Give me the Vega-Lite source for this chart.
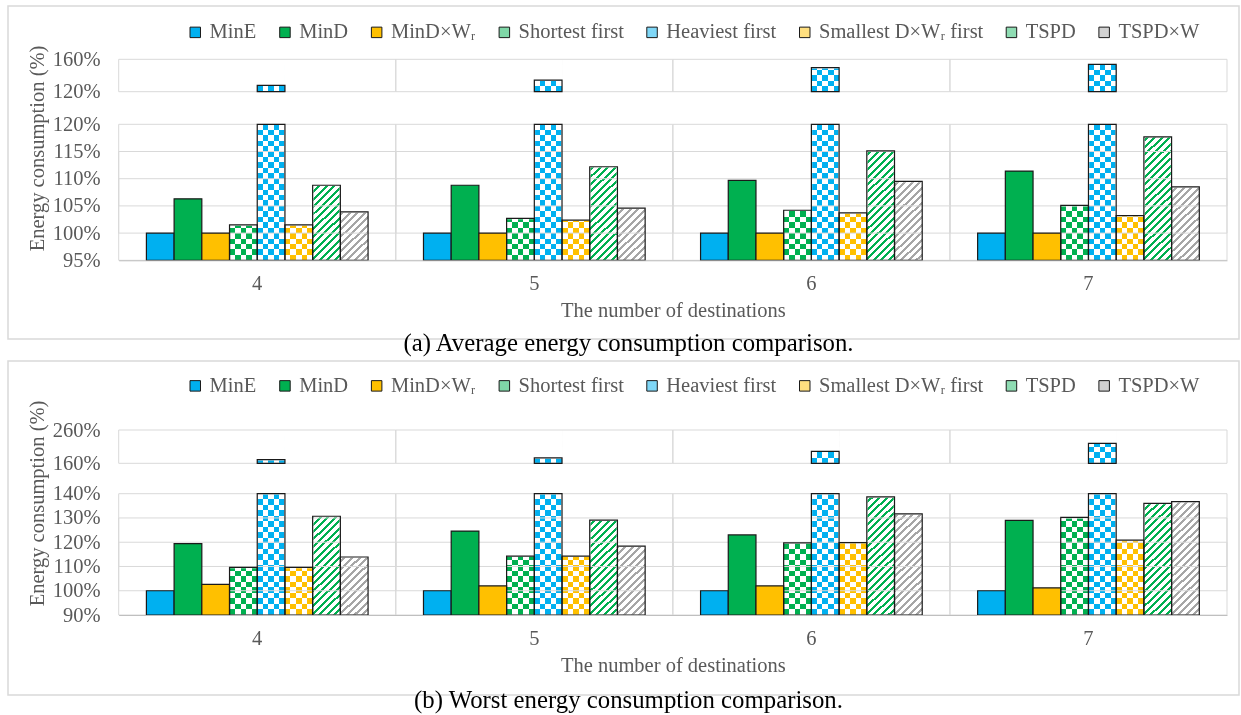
{
"$schema": "https://vega.github.io/schema/vega-lite/v6.json",
"background": "white",
"padding": {"left": 7, "top": 5, "right": 0, "bottom": 0},
"config": {"view": {"stroke": "#d9d9d9", "strokeWidth": 1.5}, "font": "Liberation Serif"},
"datasets": {
"avg": [
{"n":"4","s":"MinE","v":100},{"n":"4","s":"MinD","v":106.3},{"n":"4","s":"MinD×Wᵣ","v":100},{"n":"4","s":"Shortest first","v":101.5},{"n":"4","s":"Heaviest first","v":127.9},{"n":"4","s":"Smallest D×Wᵣ first","v":101.5},{"n":"4","s":"TSPD","v":108.8},{"n":"4","s":"TSPD×W","v":103.9},
{"n":"5","s":"MinE","v":100},{"n":"5","s":"MinD","v":108.8},{"n":"5","s":"MinD×Wᵣ","v":100},{"n":"5","s":"Shortest first","v":102.7},{"n":"5","s":"Heaviest first","v":134.4},{"n":"5","s":"Smallest D×Wᵣ first","v":102.4},{"n":"5","s":"TSPD","v":112.2},{"n":"5","s":"TSPD×W","v":104.6},
{"n":"6","s":"MinE","v":100},{"n":"6","s":"MinD","v":109.7},{"n":"6","s":"MinD×Wᵣ","v":100},{"n":"6","s":"Shortest first","v":104.2},{"n":"6","s":"Heaviest first","v":149.6},{"n":"6","s":"Smallest D×Wᵣ first","v":103.7},{"n":"6","s":"TSPD","v":115.1},{"n":"6","s":"TSPD×W","v":109.5},
{"n":"7","s":"MinE","v":100},{"n":"7","s":"MinD","v":111.4},{"n":"7","s":"MinD×Wᵣ","v":100},{"n":"7","s":"Shortest first","v":105.1},{"n":"7","s":"Heaviest first","v":153.8},{"n":"7","s":"Smallest D×Wᵣ first","v":103.2},{"n":"7","s":"TSPD","v":117.7},{"n":"7","s":"TSPD×W","v":108.5}
],
"worst": [
{"n":"4","s":"MinE","v":100},{"n":"4","s":"MinD","v":119.4},{"n":"4","s":"MinD×Wᵣ","v":102.6},{"n":"4","s":"Shortest first","v":109.6},{"n":"4","s":"Heaviest first","v":170.8},{"n":"4","s":"Smallest D×Wᵣ first","v":109.6},{"n":"4","s":"TSPD","v":130.7},{"n":"4","s":"TSPD×W","v":113.9},
{"n":"5","s":"MinE","v":100},{"n":"5","s":"MinD","v":124.6},{"n":"5","s":"MinD×Wᵣ","v":102.0},{"n":"5","s":"Shortest first","v":114.3},{"n":"5","s":"Heaviest first","v":176},{"n":"5","s":"Smallest D×Wᵣ first","v":114.3},{"n":"5","s":"TSPD","v":129.1},{"n":"5","s":"TSPD×W","v":118.4},
{"n":"6","s":"MinE","v":100},{"n":"6","s":"MinD","v":123.0},{"n":"6","s":"MinD×Wᵣ","v":102.0},{"n":"6","s":"Shortest first","v":119.7},{"n":"6","s":"Heaviest first","v":196},{"n":"6","s":"Smallest D×Wᵣ first","v":119.8},{"n":"6","s":"TSPD","v":138.7},{"n":"6","s":"TSPD×W","v":131.7},
{"n":"7","s":"MinE","v":100},{"n":"7","s":"MinD","v":129.0},{"n":"7","s":"MinD×Wᵣ","v":101.2},{"n":"7","s":"Shortest first","v":130.2},{"n":"7","s":"Heaviest first","v":220},{"n":"7","s":"Smallest D×Wᵣ first","v":120.9},{"n":"7","s":"TSPD","v":136.0},{"n":"7","s":"TSPD×W","v":136.7}
]
},
"vconcat": [
{
"width": 1231, "height": 333,
"data": {"name": "avg"},
"title": {"text": "(a) Average energy consumption comparison.", "orient": "bottom", "anchor": "middle", "frame": "group", "offset": 5, "dx": 5, "baseline": "middle", "font": "Liberation Serif", "fontSize": 24.8, "fontWeight": "normal", "color": "black"},
"encoding": {
"x": {"field": "n", "type": "nominal", "scale": {"domain": ["4","5","6","7"], "range": [110.7, 1219], "paddingInner": 0, "paddingOuter": 0},
 "axis": {"orient": "bottom", "offset": -78.7, "ticks": false, "grid": false, "domainColor": "#bfbfbf", "domainWidth": 1, "labelAngle": 0, "labelPadding": 13, "labelFont": "Liberation Serif", "labelFontSize": 20.5, "labelColor": "#595959", "title": "The number of destinations", "titlePadding": 7, "titleFont": "Liberation Serif", "titleFontSize": 20.5, "titleFontWeight": "normal", "titleColor": "#595959"}},
"xOffset": {"field": "s", "type": "nominal", "scale": {"domain": ["MinE","MinD","MinD×Wᵣ","Shortest first","Heaviest first","Smallest D×Wᵣ first","TSPD","TSPD×W"], "paddingInner": 0, "paddingOuter": 1.1}}
},
"resolve": {"scale": {"y": "independent"}, "axis": {"y": "independent"}},
"layer": [
{"transform": [{"filter": {"field": "s", "oneOf": ["Shortest first","Heaviest first","Smallest D×Wᵣ first"]}}],
 "mark": {"type": "rect", "fill": {"gradient": "linear", "x1": 0, "y1": 0, "x2": 1, "y2": 0, "stops": [{"offset":0,"color":"#000"},{"offset":0.2,"color":"#000"},{"offset":0.2,"color":"#fff"},{"offset":0.4,"color":"#fff"},{"offset":0.4,"color":"#000"},{"offset":0.6,"color":"#000"},{"offset":0.6,"color":"#fff"},{"offset":0.8,"color":"#fff"},{"offset":0.8,"color":"#000"},{"offset":1,"color":"#000"}]}},
 "encoding": {"y": {"datum": 120, "type": "quantitative", "scale": {"domain":[95,120],"range":[254.3,118.3],"clamp":true,"zero":false,"nice":false}, "axis": null}, "y2": {"datum": 95}}},
{"transform": [{"filter": {"field": "s", "oneOf": ["Shortest first","Heaviest first","Smallest D×Wᵣ first"]}}],
 "mark": {"type": "rect", "blend": "difference", "fill": {"gradient": "linear", "x1": 0, "y1": 0, "x2": 0, "y2": 1, "stops": [{"offset":0,"color":"#fff"},{"offset":0.04,"color":"#fff"},{"offset":0.04,"color":"#000"},{"offset":0.08,"color":"#000"},{"offset":0.08,"color":"#fff"},{"offset":0.12,"color":"#fff"},{"offset":0.12,"color":"#000"},{"offset":0.16,"color":"#000"},{"offset":0.16,"color":"#fff"},{"offset":0.2,"color":"#fff"},{"offset":0.2,"color":"#000"},{"offset":0.24,"color":"#000"},{"offset":0.24,"color":"#fff"},{"offset":0.28,"color":"#fff"},{"offset":0.28,"color":"#000"},{"offset":0.32,"color":"#000"},{"offset":0.32,"color":"#fff"},{"offset":0.36,"color":"#fff"},{"offset":0.36,"color":"#000"},{"offset":0.4,"color":"#000"},{"offset":0.4,"color":"#fff"},{"offset":0.44,"color":"#fff"},{"offset":0.44,"color":"#000"},{"offset":0.48,"color":"#000"},{"offset":0.48,"color":"#fff"},{"offset":0.52,"color":"#fff"},{"offset":0.52,"color":"#000"},{"offset":0.56,"color":"#000"},{"offset":0.56,"color":"#fff"},{"offset":0.6,"color":"#fff"},{"offset":0.6,"color":"#000"},{"offset":0.64,"color":"#000"},{"offset":0.64,"color":"#fff"},{"offset":0.68,"color":"#fff"},{"offset":0.68,"color":"#000"},{"offset":0.72,"color":"#000"},{"offset":0.72,"color":"#fff"},{"offset":0.76,"color":"#fff"},{"offset":0.76,"color":"#000"},{"offset":0.8,"color":"#000"},{"offset":0.8,"color":"#fff"},{"offset":0.84,"color":"#fff"},{"offset":0.84,"color":"#000"},{"offset":0.88,"color":"#000"},{"offset":0.88,"color":"#fff"},{"offset":0.92,"color":"#fff"},{"offset":0.92,"color":"#000"},{"offset":0.96,"color":"#000"},{"offset":0.96,"color":"#fff"},{"offset":1,"color":"#fff"}]}},
 "encoding": {"y": {"datum": 120, "type": "quantitative", "scale": {"domain":[95,120],"range":[254.3,118.3],"clamp":true,"zero":false,"nice":false}, "axis": null}, "y2": {"datum": 95}}},
{"transform": [{"filter": {"field": "s", "equal": "Shortest first"}}],
 "mark": {"type": "rect", "blend": "lighten", "fill": "#00B050"},
 "encoding": {"y": {"datum": 120, "type": "quantitative", "scale": {"domain":[95,120],"range":[254.3,118.3],"clamp":true,"zero":false,"nice":false}, "axis": null}, "y2": {"datum": 95}}},
{"transform": [{"filter": {"field": "s", "equal": "Heaviest first"}}],
 "mark": {"type": "rect", "blend": "lighten", "fill": "#00B0F0"},
 "encoding": {"y": {"datum": 120, "type": "quantitative", "scale": {"domain":[95,120],"range":[254.3,118.3],"clamp":true,"zero":false,"nice":false}, "axis": null}, "y2": {"datum": 95}}},
{"transform": [{"filter": {"field": "s", "equal": "Smallest D×Wᵣ first"}}],
 "mark": {"type": "rect", "blend": "lighten", "fill": "#FFC000"},
 "encoding": {"y": {"datum": 120, "type": "quantitative", "scale": {"domain":[95,120],"range":[254.3,118.3],"clamp":true,"zero":false,"nice":false}, "axis": null}, "y2": {"datum": 95}}},
{"transform": [{"filter": {"field": "s", "equal": "TSPD"}}],
 "mark": {"type": "rect", "fill": {"gradient": "linear", "x1": 0, "y1": 0, "x2": 0.2308, "y2": 1.1538, "stops": [{"offset":0,"color":"#00B050"},{"offset":0.01818,"color":"#00B050"},{"offset":0.01818,"color":"#fff"},{"offset":0.04545,"color":"#fff"},{"offset":0.04545,"color":"#00B050"},{"offset":0.06364,"color":"#00B050"},{"offset":0.06364,"color":"#fff"},{"offset":0.09091,"color":"#fff"},{"offset":0.09091,"color":"#00B050"},{"offset":0.10909,"color":"#00B050"},{"offset":0.10909,"color":"#fff"},{"offset":0.13636,"color":"#fff"},{"offset":0.13636,"color":"#00B050"},{"offset":0.15455,"color":"#00B050"},{"offset":0.15455,"color":"#fff"},{"offset":0.18182,"color":"#fff"},{"offset":0.18182,"color":"#00B050"},{"offset":0.2,"color":"#00B050"},{"offset":0.2,"color":"#fff"},{"offset":0.22727,"color":"#fff"},{"offset":0.22727,"color":"#00B050"},{"offset":0.24545,"color":"#00B050"},{"offset":0.24545,"color":"#fff"},{"offset":0.27273,"color":"#fff"},{"offset":0.27273,"color":"#00B050"},{"offset":0.29091,"color":"#00B050"},{"offset":0.29091,"color":"#fff"},{"offset":0.31818,"color":"#fff"},{"offset":0.31818,"color":"#00B050"},{"offset":0.33636,"color":"#00B050"},{"offset":0.33636,"color":"#fff"},{"offset":0.36364,"color":"#fff"},{"offset":0.36364,"color":"#00B050"},{"offset":0.38182,"color":"#00B050"},{"offset":0.38182,"color":"#fff"},{"offset":0.40909,"color":"#fff"},{"offset":0.40909,"color":"#00B050"},{"offset":0.42727,"color":"#00B050"},{"offset":0.42727,"color":"#fff"},{"offset":0.45455,"color":"#fff"},{"offset":0.45455,"color":"#00B050"},{"offset":0.47273,"color":"#00B050"},{"offset":0.47273,"color":"#fff"},{"offset":0.5,"color":"#fff"},{"offset":0.5,"color":"#00B050"},{"offset":0.51818,"color":"#00B050"},{"offset":0.51818,"color":"#fff"},{"offset":0.54545,"color":"#fff"},{"offset":0.54545,"color":"#00B050"},{"offset":0.56364,"color":"#00B050"},{"offset":0.56364,"color":"#fff"},{"offset":0.59091,"color":"#fff"},{"offset":0.59091,"color":"#00B050"},{"offset":0.60909,"color":"#00B050"},{"offset":0.60909,"color":"#fff"},{"offset":0.63636,"color":"#fff"},{"offset":0.63636,"color":"#00B050"},{"offset":0.65455,"color":"#00B050"},{"offset":0.65455,"color":"#fff"},{"offset":0.68182,"color":"#fff"},{"offset":0.68182,"color":"#00B050"},{"offset":0.7,"color":"#00B050"},{"offset":0.7,"color":"#fff"},{"offset":0.72727,"color":"#fff"},{"offset":0.72727,"color":"#00B050"},{"offset":0.74545,"color":"#00B050"},{"offset":0.74545,"color":"#fff"},{"offset":0.77273,"color":"#fff"},{"offset":0.77273,"color":"#00B050"},{"offset":0.79091,"color":"#00B050"},{"offset":0.79091,"color":"#fff"},{"offset":0.81818,"color":"#fff"},{"offset":0.81818,"color":"#00B050"},{"offset":0.83636,"color":"#00B050"},{"offset":0.83636,"color":"#fff"},{"offset":0.86364,"color":"#fff"},{"offset":0.86364,"color":"#00B050"},{"offset":0.88182,"color":"#00B050"},{"offset":0.88182,"color":"#fff"},{"offset":0.90909,"color":"#fff"},{"offset":0.90909,"color":"#00B050"},{"offset":0.92727,"color":"#00B050"},{"offset":0.92727,"color":"#fff"},{"offset":0.95455,"color":"#fff"},{"offset":0.95455,"color":"#00B050"},{"offset":0.97273,"color":"#00B050"},{"offset":0.97273,"color":"#fff"},{"offset":1,"color":"#fff"}]}},
 "encoding": {"y": {"datum": 120, "type": "quantitative", "scale": {"domain":[95,120],"range":[254.3,118.3],"clamp":true,"zero":false,"nice":false}, "axis": null}, "y2": {"datum": 95}}},
{"transform": [{"filter": {"field": "s", "equal": "TSPD×W"}}],
 "mark": {"type": "rect", "fill": {"gradient": "linear", "x1": 0, "y1": 0, "x2": 0.2308, "y2": 1.1538, "stops": [{"offset":0,"color":"#A6A6A6"},{"offset":0.01818,"color":"#A6A6A6"},{"offset":0.01818,"color":"#fff"},{"offset":0.04545,"color":"#fff"},{"offset":0.04545,"color":"#A6A6A6"},{"offset":0.06364,"color":"#A6A6A6"},{"offset":0.06364,"color":"#fff"},{"offset":0.09091,"color":"#fff"},{"offset":0.09091,"color":"#A6A6A6"},{"offset":0.10909,"color":"#A6A6A6"},{"offset":0.10909,"color":"#fff"},{"offset":0.13636,"color":"#fff"},{"offset":0.13636,"color":"#A6A6A6"},{"offset":0.15455,"color":"#A6A6A6"},{"offset":0.15455,"color":"#fff"},{"offset":0.18182,"color":"#fff"},{"offset":0.18182,"color":"#A6A6A6"},{"offset":0.2,"color":"#A6A6A6"},{"offset":0.2,"color":"#fff"},{"offset":0.22727,"color":"#fff"},{"offset":0.22727,"color":"#A6A6A6"},{"offset":0.24545,"color":"#A6A6A6"},{"offset":0.24545,"color":"#fff"},{"offset":0.27273,"color":"#fff"},{"offset":0.27273,"color":"#A6A6A6"},{"offset":0.29091,"color":"#A6A6A6"},{"offset":0.29091,"color":"#fff"},{"offset":0.31818,"color":"#fff"},{"offset":0.31818,"color":"#A6A6A6"},{"offset":0.33636,"color":"#A6A6A6"},{"offset":0.33636,"color":"#fff"},{"offset":0.36364,"color":"#fff"},{"offset":0.36364,"color":"#A6A6A6"},{"offset":0.38182,"color":"#A6A6A6"},{"offset":0.38182,"color":"#fff"},{"offset":0.40909,"color":"#fff"},{"offset":0.40909,"color":"#A6A6A6"},{"offset":0.42727,"color":"#A6A6A6"},{"offset":0.42727,"color":"#fff"},{"offset":0.45455,"color":"#fff"},{"offset":0.45455,"color":"#A6A6A6"},{"offset":0.47273,"color":"#A6A6A6"},{"offset":0.47273,"color":"#fff"},{"offset":0.5,"color":"#fff"},{"offset":0.5,"color":"#A6A6A6"},{"offset":0.51818,"color":"#A6A6A6"},{"offset":0.51818,"color":"#fff"},{"offset":0.54545,"color":"#fff"},{"offset":0.54545,"color":"#A6A6A6"},{"offset":0.56364,"color":"#A6A6A6"},{"offset":0.56364,"color":"#fff"},{"offset":0.59091,"color":"#fff"},{"offset":0.59091,"color":"#A6A6A6"},{"offset":0.60909,"color":"#A6A6A6"},{"offset":0.60909,"color":"#fff"},{"offset":0.63636,"color":"#fff"},{"offset":0.63636,"color":"#A6A6A6"},{"offset":0.65455,"color":"#A6A6A6"},{"offset":0.65455,"color":"#fff"},{"offset":0.68182,"color":"#fff"},{"offset":0.68182,"color":"#A6A6A6"},{"offset":0.7,"color":"#A6A6A6"},{"offset":0.7,"color":"#fff"},{"offset":0.72727,"color":"#fff"},{"offset":0.72727,"color":"#A6A6A6"},{"offset":0.74545,"color":"#A6A6A6"},{"offset":0.74545,"color":"#fff"},{"offset":0.77273,"color":"#fff"},{"offset":0.77273,"color":"#A6A6A6"},{"offset":0.79091,"color":"#A6A6A6"},{"offset":0.79091,"color":"#fff"},{"offset":0.81818,"color":"#fff"},{"offset":0.81818,"color":"#A6A6A6"},{"offset":0.83636,"color":"#A6A6A6"},{"offset":0.83636,"color":"#fff"},{"offset":0.86364,"color":"#fff"},{"offset":0.86364,"color":"#A6A6A6"},{"offset":0.88182,"color":"#A6A6A6"},{"offset":0.88182,"color":"#fff"},{"offset":0.90909,"color":"#fff"},{"offset":0.90909,"color":"#A6A6A6"},{"offset":0.92727,"color":"#A6A6A6"},{"offset":0.92727,"color":"#fff"},{"offset":0.95455,"color":"#fff"},{"offset":0.95455,"color":"#A6A6A6"},{"offset":0.97273,"color":"#A6A6A6"},{"offset":0.97273,"color":"#fff"},{"offset":1,"color":"#fff"}]}},
 "encoding": {"y": {"datum": 120, "type": "quantitative", "scale": {"domain":[95,120],"range":[254.3,118.3],"clamp":true,"zero":false,"nice":false}, "axis": null}, "y2": {"datum": 95}}},
{"transform": [{"filter": {"field": "s", "oneOf": ["Shortest first","Heaviest first","Smallest D×Wᵣ first","TSPD","TSPD×W"]}}],
 "mark": {"type": "rect", "fill": "white", "stroke": "white", "strokeWidth": 1.6},
 "encoding": {"y": {"field": "v", "type": "quantitative", "scale": {"domain":[95,120],"range":[254.3,118.3],"clamp":true,"zero":false,"nice":false}, "axis": null}, "y2": {"datum": 120}}},
{"transform": [{"filter": {"field": "s", "equal": "Heaviest first"}}],
 "mark": {"type": "rect", "fill": {"gradient": "linear", "x1": 0, "y1": 0, "x2": 1, "y2": 0, "stops": [{"offset":0,"color":"#000"},{"offset":0.2,"color":"#000"},{"offset":0.2,"color":"#fff"},{"offset":0.4,"color":"#fff"},{"offset":0.4,"color":"#000"},{"offset":0.6,"color":"#000"},{"offset":0.6,"color":"#fff"},{"offset":0.8,"color":"#fff"},{"offset":0.8,"color":"#000"},{"offset":1,"color":"#000"}]}},
 "encoding": {"y": {"datum": 160, "type": "quantitative", "scale": {"domain":[120,160],"range":[85.7,53.3],"clamp":true,"zero":false,"nice":false}, "axis": null}, "y2": {"datum": 120}}},
{"transform": [{"filter": {"field": "s", "equal": "Heaviest first"}}],
 "mark": {"type": "rect", "blend": "difference", "fill": {"gradient": "linear", "x1": 0, "y1": 0, "x2": 0, "y2": 1, "stops": [{"offset":0,"color":"#fff"},{"offset":0.16667,"color":"#fff"},{"offset":0.16667,"color":"#000"},{"offset":0.33333,"color":"#000"},{"offset":0.33333,"color":"#fff"},{"offset":0.5,"color":"#fff"},{"offset":0.5,"color":"#000"},{"offset":0.66667,"color":"#000"},{"offset":0.66667,"color":"#fff"},{"offset":0.83333,"color":"#fff"},{"offset":0.83333,"color":"#000"},{"offset":1,"color":"#000"}]}},
 "encoding": {"y": {"datum": 160, "type": "quantitative", "scale": {"domain":[120,160],"range":[85.7,53.3],"clamp":true,"zero":false,"nice":false}, "axis": null}, "y2": {"datum": 120}}},
{"transform": [{"filter": {"field": "s", "equal": "Heaviest first"}}],
 "mark": {"type": "rect", "blend": "lighten", "fill": "#00B0F0"},
 "encoding": {"y": {"datum": 160, "type": "quantitative", "scale": {"domain":[120,160],"range":[85.7,53.3],"clamp":true,"zero":false,"nice":false}, "axis": null}, "y2": {"datum": 120}}},
{"transform": [{"filter": {"field": "s", "equal": "Heaviest first"}}],
 "mark": {"type": "rect", "fill": "white", "stroke": "white", "strokeWidth": 1.6},
 "encoding": {"y": {"field": "v", "type": "quantitative", "scale": {"domain":[120,160],"range":[85.7,53.3],"clamp":true,"zero":false,"nice":false}, "axis": null}, "y2": {"datum": 160}}},
{"transform": [{"filter": {"field": "s", "equal": "MinE"}}],
 "mark": {"type": "rect", "filled": false, "stroke": "#d9d9d9", "strokeWidth": 1},
 "encoding": {"xOffset": null, "y": {"datum": 120, "type": "quantitative", "scale": {"domain":[95,120],"range":[254.3,118.3],"clamp":true,"zero":false,"nice":false}, "axis": null}, "y2": {"datum": 95}}},
{"transform": [{"filter": {"field": "s", "equal": "MinE"}}],
 "mark": {"type": "rect", "filled": false, "stroke": "#d9d9d9", "strokeWidth": 1},
 "encoding": {"xOffset": null, "y": {"datum": 115, "type": "quantitative", "scale": {"domain":[95,120],"range":[254.3,118.3],"clamp":true,"zero":false,"nice":false}, "axis": null}, "y2": {"datum": 100}}},
{"transform": [{"filter": {"field": "s", "equal": "MinE"}}],
 "mark": {"type": "rect", "filled": false, "stroke": "#d9d9d9", "strokeWidth": 1},
 "encoding": {"xOffset": null, "y": {"datum": 110, "type": "quantitative", "scale": {"domain":[95,120],"range":[254.3,118.3],"clamp":true,"zero":false,"nice":false}, "axis": null}, "y2": {"datum": 105}}},
{"transform": [{"filter": {"field": "s", "equal": "MinE"}}],
 "mark": {"type": "rect", "filled": false, "stroke": "#d9d9d9", "strokeWidth": 1},
 "encoding": {"xOffset": null, "y": {"datum": 160, "type": "quantitative", "scale": {"domain":[120,160],"range":[85.7,53.3],"clamp":true,"zero":false,"nice":false}, "axis": null}, "y2": {"datum": 120}}},
{"transform": [{"filter": {"field": "s", "oneOf": ["MinE","MinD","MinD×Wᵣ"]}}],
 "mark": {"type": "rect", "stroke": "#1a1a1a", "strokeWidth": 1.2},
 "encoding": {"y": {"field": "v", "type": "quantitative", "scale": {"domain":[95,120],"range":[254.3,118.3],"clamp":true,"zero":false,"nice":false},
   "axis": {"orient": "left", "offset": -110.7, "values": [95,100,105,110,115,120], "labelExpr": "datum.value + '%'", "ticks": false, "domain": false, "grid": false, "labelPadding": 18.7, "labelFlush": false, "labelOverlap": false, "labelFont": "Liberation Serif", "labelFontSize": 20.5, "labelColor": "#595959", "labelBaseline": "middle", "title": "Energy consumption (%)", "titleFont": "Liberation Serif", "titleFontSize": 20.5, "titleFontWeight": "normal", "titleColor": "#595959", "titleAngle": -90, "titleX": -81.7, "titleY": 142, "titleAlign": "center", "titleBaseline": "middle"}},
  "y2": {"datum": 95},
  "color": {"field": "s", "type": "nominal", "scale": {"domain": ["MinE","MinD","MinD×Wᵣ","Shortest first","Heaviest first","Smallest D×Wᵣ first","TSPD","TSPD×W"], "range": ["#00B0F0","#00B050","#FFC000","#7FD7A7","#7FD7F7","#FFDF7F","#8FDCB3","#D2D2D2"]},
   "legend": {"orient": "none", "legendX": 177, "legendY": 16, "direction": "horizontal", "columns": 8, "title": null, "symbolType": "square", "symbolSize": 110, "symbolStrokeColor": "#1a1a1a", "symbolStrokeWidth": 1, "symbolOpacity": 1, "labelFont": "Liberation Serif", "labelFontSize": 20.5, "labelColor": "#595959", "labelOffset": 4, "columnPadding": 17.7, "padding": 0, "labelLimit": 400}}}},
{"transform": [{"filter": {"field": "s", "oneOf": ["Shortest first","Heaviest first","Smallest D×Wᵣ first","TSPD","TSPD×W"]}}],
 "mark": {"type": "rect", "filled": false, "stroke": "#1a1a1a", "strokeWidth": 1.2},
 "encoding": {"y": {"field": "v", "type": "quantitative", "scale": {"domain":[95,120],"range":[254.3,118.3],"clamp":true,"zero":false,"nice":false}, "axis": null}, "y2": {"datum": 95}}},
{"transform": [{"filter": {"field": "s", "equal": "Heaviest first"}}],
 "mark": {"type": "rect", "filled": false, "stroke": "#1a1a1a", "strokeWidth": 1.2},
 "encoding": {"y": {"field": "v", "type": "quantitative", "scale": {"domain":[120,160],"range":[85.7,53.3],"clamp":true,"zero":false,"nice":false},
   "axis": {"orient": "left", "offset": -110.7, "values": [120,160], "labelExpr": "datum.value + '%'", "ticks": false, "domain": false, "grid": false, "labelPadding": 18.7, "labelFlush": false, "labelOverlap": false, "labelFont": "Liberation Serif", "labelFontSize": 20.5, "labelColor": "#595959", "labelBaseline": "middle", "title": null}},
  "y2": {"datum": 120}}}
]
},
{
"width": 1231, "height": 334,
"data": {"name": "worst"},
"title": {"text": "(b) Worst energy consumption comparison.", "orient": "bottom", "anchor": "middle", "frame": "group", "offset": 6, "dx": 5, "baseline": "middle", "font": "Liberation Serif", "fontSize": 24.8, "fontWeight": "normal", "color": "black"},
"encoding": {
"x": {"field": "n", "type": "nominal", "scale": {"domain": ["4","5","6","7"], "range": [110.7, 1219], "paddingInner": 0, "paddingOuter": 0},
 "axis": {"orient": "bottom", "offset": -80, "ticks": false, "grid": false, "domainColor": "#bfbfbf", "domainWidth": 1, "labelAngle": 0, "labelPadding": 13, "labelFont": "Liberation Serif", "labelFontSize": 20.5, "labelColor": "#595959", "title": "The number of destinations", "titlePadding": 7, "titleFont": "Liberation Serif", "titleFontSize": 20.5, "titleFontWeight": "normal", "titleColor": "#595959"}},
"xOffset": {"field": "s", "type": "nominal", "scale": {"domain": ["MinE","MinD","MinD×Wᵣ","Shortest first","Heaviest first","Smallest D×Wᵣ first","TSPD","TSPD×W"], "paddingInner": 0, "paddingOuter": 1.1}}
},
"resolve": {"scale": {"y": "independent"}, "axis": {"y": "independent"}},
"layer": [
{"transform": [{"filter": {"field": "s", "oneOf": ["Shortest first","Heaviest first","Smallest D×Wᵣ first"]}}],
 "mark": {"type": "rect", "fill": {"gradient": "linear", "x1": 0, "y1": 0, "x2": 1, "y2": 0, "stops": [{"offset":0,"color":"#000"},{"offset":0.2,"color":"#000"},{"offset":0.2,"color":"#fff"},{"offset":0.4,"color":"#fff"},{"offset":0.4,"color":"#000"},{"offset":0.6,"color":"#000"},{"offset":0.6,"color":"#fff"},{"offset":0.8,"color":"#fff"},{"offset":0.8,"color":"#000"},{"offset":1,"color":"#000"}]}},
 "encoding": {"y": {"datum": 140, "type": "quantitative", "scale": {"domain":[90,140],"range":[254,132.7],"clamp":true,"zero":false,"nice":false}, "axis": null}, "y2": {"datum": 90}}},
{"transform": [{"filter": {"field": "s", "oneOf": ["Shortest first","Heaviest first","Smallest D×Wᵣ first"]}}],
 "mark": {"type": "rect", "blend": "difference", "fill": {"gradient": "linear", "x1": 0, "y1": 0, "x2": 0, "y2": 1, "stops": [{"offset":0,"color":"#fff"},{"offset":0.04545,"color":"#fff"},{"offset":0.04545,"color":"#000"},{"offset":0.09091,"color":"#000"},{"offset":0.09091,"color":"#fff"},{"offset":0.13636,"color":"#fff"},{"offset":0.13636,"color":"#000"},{"offset":0.18182,"color":"#000"},{"offset":0.18182,"color":"#fff"},{"offset":0.22727,"color":"#fff"},{"offset":0.22727,"color":"#000"},{"offset":0.27273,"color":"#000"},{"offset":0.27273,"color":"#fff"},{"offset":0.31818,"color":"#fff"},{"offset":0.31818,"color":"#000"},{"offset":0.36364,"color":"#000"},{"offset":0.36364,"color":"#fff"},{"offset":0.40909,"color":"#fff"},{"offset":0.40909,"color":"#000"},{"offset":0.45455,"color":"#000"},{"offset":0.45455,"color":"#fff"},{"offset":0.5,"color":"#fff"},{"offset":0.5,"color":"#000"},{"offset":0.54545,"color":"#000"},{"offset":0.54545,"color":"#fff"},{"offset":0.59091,"color":"#fff"},{"offset":0.59091,"color":"#000"},{"offset":0.63636,"color":"#000"},{"offset":0.63636,"color":"#fff"},{"offset":0.68182,"color":"#fff"},{"offset":0.68182,"color":"#000"},{"offset":0.72727,"color":"#000"},{"offset":0.72727,"color":"#fff"},{"offset":0.77273,"color":"#fff"},{"offset":0.77273,"color":"#000"},{"offset":0.81818,"color":"#000"},{"offset":0.81818,"color":"#fff"},{"offset":0.86364,"color":"#fff"},{"offset":0.86364,"color":"#000"},{"offset":0.90909,"color":"#000"},{"offset":0.90909,"color":"#fff"},{"offset":0.95455,"color":"#fff"},{"offset":0.95455,"color":"#000"},{"offset":1,"color":"#000"}]}},
 "encoding": {"y": {"datum": 140, "type": "quantitative", "scale": {"domain":[90,140],"range":[254,132.7],"clamp":true,"zero":false,"nice":false}, "axis": null}, "y2": {"datum": 90}}},
{"transform": [{"filter": {"field": "s", "equal": "Shortest first"}}],
 "mark": {"type": "rect", "blend": "lighten", "fill": "#00B050"},
 "encoding": {"y": {"datum": 140, "type": "quantitative", "scale": {"domain":[90,140],"range":[254,132.7],"clamp":true,"zero":false,"nice":false}, "axis": null}, "y2": {"datum": 90}}},
{"transform": [{"filter": {"field": "s", "equal": "Heaviest first"}}],
 "mark": {"type": "rect", "blend": "lighten", "fill": "#00B0F0"},
 "encoding": {"y": {"datum": 140, "type": "quantitative", "scale": {"domain":[90,140],"range":[254,132.7],"clamp":true,"zero":false,"nice":false}, "axis": null}, "y2": {"datum": 90}}},
{"transform": [{"filter": {"field": "s", "equal": "Smallest D×Wᵣ first"}}],
 "mark": {"type": "rect", "blend": "lighten", "fill": "#FFC000"},
 "encoding": {"y": {"datum": 140, "type": "quantitative", "scale": {"domain":[90,140],"range":[254,132.7],"clamp":true,"zero":false,"nice":false}, "axis": null}, "y2": {"datum": 90}}},
{"transform": [{"filter": {"field": "s", "equal": "TSPD"}}],
 "mark": {"type": "rect", "fill": {"gradient": "linear", "x1": 0, "y1": 0, "x2": 0.2614, "y2": 1.1657, "stops": [{"offset":0,"color":"#00B050"},{"offset":0.02,"color":"#00B050"},{"offset":0.02,"color":"#fff"},{"offset":0.05,"color":"#fff"},{"offset":0.05,"color":"#00B050"},{"offset":0.07,"color":"#00B050"},{"offset":0.07,"color":"#fff"},{"offset":0.1,"color":"#fff"},{"offset":0.1,"color":"#00B050"},{"offset":0.12,"color":"#00B050"},{"offset":0.12,"color":"#fff"},{"offset":0.15,"color":"#fff"},{"offset":0.15,"color":"#00B050"},{"offset":0.17,"color":"#00B050"},{"offset":0.17,"color":"#fff"},{"offset":0.2,"color":"#fff"},{"offset":0.2,"color":"#00B050"},{"offset":0.22,"color":"#00B050"},{"offset":0.22,"color":"#fff"},{"offset":0.25,"color":"#fff"},{"offset":0.25,"color":"#00B050"},{"offset":0.27,"color":"#00B050"},{"offset":0.27,"color":"#fff"},{"offset":0.3,"color":"#fff"},{"offset":0.3,"color":"#00B050"},{"offset":0.32,"color":"#00B050"},{"offset":0.32,"color":"#fff"},{"offset":0.35,"color":"#fff"},{"offset":0.35,"color":"#00B050"},{"offset":0.37,"color":"#00B050"},{"offset":0.37,"color":"#fff"},{"offset":0.4,"color":"#fff"},{"offset":0.4,"color":"#00B050"},{"offset":0.42,"color":"#00B050"},{"offset":0.42,"color":"#fff"},{"offset":0.45,"color":"#fff"},{"offset":0.45,"color":"#00B050"},{"offset":0.47,"color":"#00B050"},{"offset":0.47,"color":"#fff"},{"offset":0.5,"color":"#fff"},{"offset":0.5,"color":"#00B050"},{"offset":0.52,"color":"#00B050"},{"offset":0.52,"color":"#fff"},{"offset":0.55,"color":"#fff"},{"offset":0.55,"color":"#00B050"},{"offset":0.57,"color":"#00B050"},{"offset":0.57,"color":"#fff"},{"offset":0.6,"color":"#fff"},{"offset":0.6,"color":"#00B050"},{"offset":0.62,"color":"#00B050"},{"offset":0.62,"color":"#fff"},{"offset":0.65,"color":"#fff"},{"offset":0.65,"color":"#00B050"},{"offset":0.67,"color":"#00B050"},{"offset":0.67,"color":"#fff"},{"offset":0.7,"color":"#fff"},{"offset":0.7,"color":"#00B050"},{"offset":0.72,"color":"#00B050"},{"offset":0.72,"color":"#fff"},{"offset":0.75,"color":"#fff"},{"offset":0.75,"color":"#00B050"},{"offset":0.77,"color":"#00B050"},{"offset":0.77,"color":"#fff"},{"offset":0.8,"color":"#fff"},{"offset":0.8,"color":"#00B050"},{"offset":0.82,"color":"#00B050"},{"offset":0.82,"color":"#fff"},{"offset":0.85,"color":"#fff"},{"offset":0.85,"color":"#00B050"},{"offset":0.87,"color":"#00B050"},{"offset":0.87,"color":"#fff"},{"offset":0.9,"color":"#fff"},{"offset":0.9,"color":"#00B050"},{"offset":0.92,"color":"#00B050"},{"offset":0.92,"color":"#fff"},{"offset":0.95,"color":"#fff"},{"offset":0.95,"color":"#00B050"},{"offset":0.97,"color":"#00B050"},{"offset":0.97,"color":"#fff"},{"offset":1,"color":"#fff"}]}},
 "encoding": {"y": {"datum": 140, "type": "quantitative", "scale": {"domain":[90,140],"range":[254,132.7],"clamp":true,"zero":false,"nice":false}, "axis": null}, "y2": {"datum": 90}}},
{"transform": [{"filter": {"field": "s", "equal": "TSPD×W"}}],
 "mark": {"type": "rect", "fill": {"gradient": "linear", "x1": 0, "y1": 0, "x2": 0.2614, "y2": 1.1657, "stops": [{"offset":0,"color":"#A6A6A6"},{"offset":0.02,"color":"#A6A6A6"},{"offset":0.02,"color":"#fff"},{"offset":0.05,"color":"#fff"},{"offset":0.05,"color":"#A6A6A6"},{"offset":0.07,"color":"#A6A6A6"},{"offset":0.07,"color":"#fff"},{"offset":0.1,"color":"#fff"},{"offset":0.1,"color":"#A6A6A6"},{"offset":0.12,"color":"#A6A6A6"},{"offset":0.12,"color":"#fff"},{"offset":0.15,"color":"#fff"},{"offset":0.15,"color":"#A6A6A6"},{"offset":0.17,"color":"#A6A6A6"},{"offset":0.17,"color":"#fff"},{"offset":0.2,"color":"#fff"},{"offset":0.2,"color":"#A6A6A6"},{"offset":0.22,"color":"#A6A6A6"},{"offset":0.22,"color":"#fff"},{"offset":0.25,"color":"#fff"},{"offset":0.25,"color":"#A6A6A6"},{"offset":0.27,"color":"#A6A6A6"},{"offset":0.27,"color":"#fff"},{"offset":0.3,"color":"#fff"},{"offset":0.3,"color":"#A6A6A6"},{"offset":0.32,"color":"#A6A6A6"},{"offset":0.32,"color":"#fff"},{"offset":0.35,"color":"#fff"},{"offset":0.35,"color":"#A6A6A6"},{"offset":0.37,"color":"#A6A6A6"},{"offset":0.37,"color":"#fff"},{"offset":0.4,"color":"#fff"},{"offset":0.4,"color":"#A6A6A6"},{"offset":0.42,"color":"#A6A6A6"},{"offset":0.42,"color":"#fff"},{"offset":0.45,"color":"#fff"},{"offset":0.45,"color":"#A6A6A6"},{"offset":0.47,"color":"#A6A6A6"},{"offset":0.47,"color":"#fff"},{"offset":0.5,"color":"#fff"},{"offset":0.5,"color":"#A6A6A6"},{"offset":0.52,"color":"#A6A6A6"},{"offset":0.52,"color":"#fff"},{"offset":0.55,"color":"#fff"},{"offset":0.55,"color":"#A6A6A6"},{"offset":0.57,"color":"#A6A6A6"},{"offset":0.57,"color":"#fff"},{"offset":0.6,"color":"#fff"},{"offset":0.6,"color":"#A6A6A6"},{"offset":0.62,"color":"#A6A6A6"},{"offset":0.62,"color":"#fff"},{"offset":0.65,"color":"#fff"},{"offset":0.65,"color":"#A6A6A6"},{"offset":0.67,"color":"#A6A6A6"},{"offset":0.67,"color":"#fff"},{"offset":0.7,"color":"#fff"},{"offset":0.7,"color":"#A6A6A6"},{"offset":0.72,"color":"#A6A6A6"},{"offset":0.72,"color":"#fff"},{"offset":0.75,"color":"#fff"},{"offset":0.75,"color":"#A6A6A6"},{"offset":0.77,"color":"#A6A6A6"},{"offset":0.77,"color":"#fff"},{"offset":0.8,"color":"#fff"},{"offset":0.8,"color":"#A6A6A6"},{"offset":0.82,"color":"#A6A6A6"},{"offset":0.82,"color":"#fff"},{"offset":0.85,"color":"#fff"},{"offset":0.85,"color":"#A6A6A6"},{"offset":0.87,"color":"#A6A6A6"},{"offset":0.87,"color":"#fff"},{"offset":0.9,"color":"#fff"},{"offset":0.9,"color":"#A6A6A6"},{"offset":0.92,"color":"#A6A6A6"},{"offset":0.92,"color":"#fff"},{"offset":0.95,"color":"#fff"},{"offset":0.95,"color":"#A6A6A6"},{"offset":0.97,"color":"#A6A6A6"},{"offset":0.97,"color":"#fff"},{"offset":1,"color":"#fff"}]}},
 "encoding": {"y": {"datum": 140, "type": "quantitative", "scale": {"domain":[90,140],"range":[254,132.7],"clamp":true,"zero":false,"nice":false}, "axis": null}, "y2": {"datum": 90}}},
{"transform": [{"filter": {"field": "s", "oneOf": ["Shortest first","Heaviest first","Smallest D×Wᵣ first","TSPD","TSPD×W"]}}],
 "mark": {"type": "rect", "fill": "white", "stroke": "white", "strokeWidth": 1.6},
 "encoding": {"y": {"field": "v", "type": "quantitative", "scale": {"domain":[90,140],"range":[254,132.7],"clamp":true,"zero":false,"nice":false}, "axis": null}, "y2": {"datum": 140}}},
{"transform": [{"filter": {"field": "s", "equal": "Heaviest first"}}],
 "mark": {"type": "rect", "fill": {"gradient": "linear", "x1": 0, "y1": 0, "x2": 1, "y2": 0, "stops": [{"offset":0,"color":"#000"},{"offset":0.2,"color":"#000"},{"offset":0.2,"color":"#fff"},{"offset":0.4,"color":"#fff"},{"offset":0.4,"color":"#000"},{"offset":0.6,"color":"#000"},{"offset":0.6,"color":"#fff"},{"offset":0.8,"color":"#fff"},{"offset":0.8,"color":"#000"},{"offset":1,"color":"#000"}]}},
 "encoding": {"y": {"datum": 260, "type": "quantitative", "scale": {"domain":[160,260],"range":[102.3,69],"clamp":true,"zero":false,"nice":false}, "axis": null}, "y2": {"datum": 160}}},
{"transform": [{"filter": {"field": "s", "equal": "Heaviest first"}}],
 "mark": {"type": "rect", "blend": "difference", "fill": {"gradient": "linear", "x1": 0, "y1": 0, "x2": 0, "y2": 1, "stops": [{"offset":0,"color":"#fff"},{"offset":0.16667,"color":"#fff"},{"offset":0.16667,"color":"#000"},{"offset":0.33333,"color":"#000"},{"offset":0.33333,"color":"#fff"},{"offset":0.5,"color":"#fff"},{"offset":0.5,"color":"#000"},{"offset":0.66667,"color":"#000"},{"offset":0.66667,"color":"#fff"},{"offset":0.83333,"color":"#fff"},{"offset":0.83333,"color":"#000"},{"offset":1,"color":"#000"}]}},
 "encoding": {"y": {"datum": 260, "type": "quantitative", "scale": {"domain":[160,260],"range":[102.3,69],"clamp":true,"zero":false,"nice":false}, "axis": null}, "y2": {"datum": 160}}},
{"transform": [{"filter": {"field": "s", "equal": "Heaviest first"}}],
 "mark": {"type": "rect", "blend": "lighten", "fill": "#00B0F0"},
 "encoding": {"y": {"datum": 260, "type": "quantitative", "scale": {"domain":[160,260],"range":[102.3,69],"clamp":true,"zero":false,"nice":false}, "axis": null}, "y2": {"datum": 160}}},
{"transform": [{"filter": {"field": "s", "equal": "Heaviest first"}}],
 "mark": {"type": "rect", "fill": "white", "stroke": "white", "strokeWidth": 1.6},
 "encoding": {"y": {"field": "v", "type": "quantitative", "scale": {"domain":[160,260],"range":[102.3,69],"clamp":true,"zero":false,"nice":false}, "axis": null}, "y2": {"datum": 260}}},
{"transform": [{"filter": {"field": "s", "equal": "MinE"}}],
 "mark": {"type": "rect", "filled": false, "stroke": "#d9d9d9", "strokeWidth": 1},
 "encoding": {"xOffset": null, "y": {"datum": 140, "type": "quantitative", "scale": {"domain":[90,140],"range":[254,132.7],"clamp":true,"zero":false,"nice":false}, "axis": null}, "y2": {"datum": 90}}},
{"transform": [{"filter": {"field": "s", "equal": "MinE"}}],
 "mark": {"type": "rect", "filled": false, "stroke": "#d9d9d9", "strokeWidth": 1},
 "encoding": {"xOffset": null, "y": {"datum": 130, "type": "quantitative", "scale": {"domain":[90,140],"range":[254,132.7],"clamp":true,"zero":false,"nice":false}, "axis": null}, "y2": {"datum": 100}}},
{"transform": [{"filter": {"field": "s", "equal": "MinE"}}],
 "mark": {"type": "rect", "filled": false, "stroke": "#d9d9d9", "strokeWidth": 1},
 "encoding": {"xOffset": null, "y": {"datum": 120, "type": "quantitative", "scale": {"domain":[90,140],"range":[254,132.7],"clamp":true,"zero":false,"nice":false}, "axis": null}, "y2": {"datum": 110}}},
{"transform": [{"filter": {"field": "s", "equal": "MinE"}}],
 "mark": {"type": "rect", "filled": false, "stroke": "#d9d9d9", "strokeWidth": 1},
 "encoding": {"xOffset": null, "y": {"datum": 260, "type": "quantitative", "scale": {"domain":[160,260],"range":[102.3,69],"clamp":true,"zero":false,"nice":false}, "axis": null}, "y2": {"datum": 160}}},
{"transform": [{"filter": {"field": "s", "oneOf": ["MinE","MinD","MinD×Wᵣ"]}}],
 "mark": {"type": "rect", "stroke": "#1a1a1a", "strokeWidth": 1.2},
 "encoding": {"y": {"field": "v", "type": "quantitative", "scale": {"domain":[90,140],"range":[254,132.7],"clamp":true,"zero":false,"nice":false},
   "axis": {"orient": "left", "offset": -110.7, "values": [90,100,110,120,130,140], "labelExpr": "datum.value + '%'", "ticks": false, "domain": false, "grid": false, "labelPadding": 18.7, "labelFlush": false, "labelOverlap": false, "labelFont": "Liberation Serif", "labelFontSize": 20.5, "labelColor": "#595959", "labelBaseline": "middle", "title": "Energy consumption (%)", "titleFont": "Liberation Serif", "titleFontSize": 20.5, "titleFontWeight": "normal", "titleColor": "#595959", "titleAngle": -90, "titleX": -81.7, "titleY": 142, "titleAlign": "center", "titleBaseline": "middle"}},
  "y2": {"datum": 90},
  "color": {"field": "s", "type": "nominal", "scale": {"domain": ["MinE","MinD","MinD×Wᵣ","Shortest first","Heaviest first","Smallest D×Wᵣ first","TSPD","TSPD×W"], "range": ["#00B0F0","#00B050","#FFC000","#7FD7A7","#7FD7F7","#FFDF7F","#8FDCB3","#D2D2D2"]},
   "legend": {"orient": "none", "legendX": 177, "legendY": 14.5, "direction": "horizontal", "columns": 8, "title": null, "symbolType": "square", "symbolSize": 110, "symbolStrokeColor": "#1a1a1a", "symbolStrokeWidth": 1, "symbolOpacity": 1, "labelFont": "Liberation Serif", "labelFontSize": 20.5, "labelColor": "#595959", "labelOffset": 4, "columnPadding": 17.7, "padding": 0, "labelLimit": 400}}}},
{"transform": [{"filter": {"field": "s", "oneOf": ["Shortest first","Heaviest first","Smallest D×Wᵣ first","TSPD","TSPD×W"]}}],
 "mark": {"type": "rect", "filled": false, "stroke": "#1a1a1a", "strokeWidth": 1.2},
 "encoding": {"y": {"field": "v", "type": "quantitative", "scale": {"domain":[90,140],"range":[254,132.7],"clamp":true,"zero":false,"nice":false}, "axis": null}, "y2": {"datum": 90}}},
{"transform": [{"filter": {"field": "s", "equal": "Heaviest first"}}],
 "mark": {"type": "rect", "filled": false, "stroke": "#1a1a1a", "strokeWidth": 1.2},
 "encoding": {"y": {"field": "v", "type": "quantitative", "scale": {"domain":[160,260],"range":[102.3,69],"clamp":true,"zero":false,"nice":false},
   "axis": {"orient": "left", "offset": -110.7, "values": [160,260], "labelExpr": "datum.value + '%'", "ticks": false, "domain": false, "grid": false, "labelPadding": 18.7, "labelFlush": false, "labelOverlap": false, "labelFont": "Liberation Serif", "labelFontSize": 20.5, "labelColor": "#595959", "labelBaseline": "middle", "title": null}},
  "y2": {"datum": 160}}}
]
}
],
"spacing": 22,
"bounds": "flush",
"resolve": {"scale": {"color": "independent"}, "legend": {"color": "independent"}}
}
